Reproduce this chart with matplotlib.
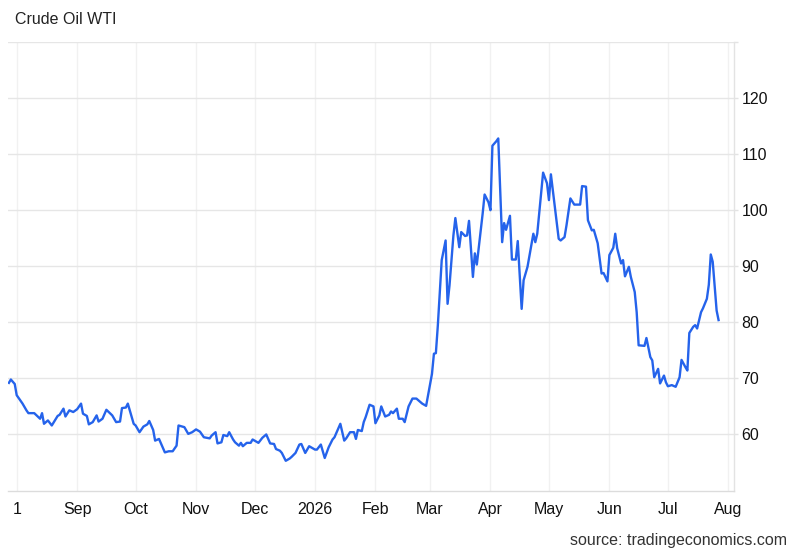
import matplotlib
matplotlib.use("Agg")
import matplotlib.pyplot as plt
import pandas as pd

# ---- data ----
dates = [
    "2025-07-28", "2025-07-29", "2025-07-31", "2025-08-01", "2025-08-04", "2025-08-06", "2025-08-07",
    "2025-08-10", "2025-08-13", "2025-08-14", "2025-08-15", "2025-08-17", "2025-08-19", "2025-08-22",
    "2025-08-23", "2025-08-25", "2025-08-26", "2025-08-28", "2025-08-30", "2025-09-01",
    "2025-09-03", "2025-09-04", "2025-09-06", "2025-09-07", "2025-09-09", "2025-09-11", "2025-09-12",
    "2025-09-14", "2025-09-16", "2025-09-19", "2025-09-21", "2025-09-23", "2025-09-24", "2025-09-26",
    "2025-09-27", "2025-09-29", "2025-09-30", "2025-10-01",
    "2025-10-03", "2025-10-05", "2025-10-07", "2025-10-08", "2025-10-10", "2025-10-11", "2025-10-13",
    "2025-10-14", "2025-10-16", "2025-10-18", "2025-10-20", "2025-10-22", "2025-10-23", "2025-10-26",
    "2025-10-28", "2025-10-30",
    "2025-11-01", "2025-11-03", "2025-11-05", "2025-11-08", "2025-11-09", "2025-11-11", "2025-11-12",
    "2025-11-14", "2025-11-15", "2025-11-17", "2025-11-18", "2025-11-20", "2025-11-21", "2025-11-23",
    "2025-11-24", "2025-11-25", "2025-11-27", "2025-11-29", "2025-11-30",
    "2025-12-03", "2025-12-05", "2025-12-07", "2025-12-09", "2025-12-11", "2025-12-12", "2025-12-14",
    "2025-12-15", "2025-12-17", "2025-12-19", "2025-12-20", "2025-12-22", "2025-12-24", "2025-12-25",
    "2025-12-27", "2025-12-29", "2025-12-30",
    "2026-01-01", "2026-01-02", "2026-01-04", "2026-01-06", "2026-01-08", "2026-01-10", "2026-01-11",
    "2026-01-14", "2026-01-16", "2026-01-17", "2026-01-19", "2026-01-21", "2026-01-22", "2026-01-23",
    "2026-01-25", "2026-01-26", "2026-01-27", "2026-01-29", "2026-01-31",
    "2026-02-01", "2026-02-03", "2026-02-04", "2026-02-06", "2026-02-08", "2026-02-09", "2026-02-10",
    "2026-02-12", "2026-02-13", "2026-02-15", "2026-02-16", "2026-02-18", "2026-02-20", "2026-02-22",
    "2026-02-23", "2026-02-25", "2026-02-27", "2026-02-28",
    "2026-03-02", "2026-03-03", "2026-03-04", "2026-03-05", "2026-03-07", "2026-03-09", "2026-03-10",
    "2026-03-11", "2026-03-13", "2026-03-14", "2026-03-16", "2026-03-17", "2026-03-19", "2026-03-20",
    "2026-03-21", "2026-03-23", "2026-03-24", "2026-03-25", "2026-03-28", "2026-03-29", "2026-03-31",
    "2026-04-01", "2026-04-02", "2026-04-04", "2026-04-05", "2026-04-07", "2026-04-08", "2026-04-09",
    "2026-04-11", "2026-04-12", "2026-04-14", "2026-04-15", "2026-04-17", "2026-04-18", "2026-04-20",
    "2026-04-23", "2026-04-24", "2026-04-25", "2026-04-26", "2026-04-28", "2026-04-30",
    "2026-05-01", "2026-05-02", "2026-05-06", "2026-05-07", "2026-05-09", "2026-05-10", "2026-05-12",
    "2026-05-14", "2026-05-17", "2026-05-18", "2026-05-20", "2026-05-21", "2026-05-23", "2026-05-24",
    "2026-05-26", "2026-05-28", "2026-05-29", "2026-05-31",
    "2026-06-01", "2026-06-03", "2026-06-04", "2026-06-05", "2026-06-07", "2026-06-08", "2026-06-09",
    "2026-06-11", "2026-06-12", "2026-06-14", "2026-06-15", "2026-06-16", "2026-06-19", "2026-06-20",
    "2026-06-22", "2026-06-23", "2026-06-24", "2026-06-26", "2026-06-27", "2026-06-29", "2026-06-30",
    "2026-07-01", "2026-07-03", "2026-07-05", "2026-07-07", "2026-07-08", "2026-07-10", "2026-07-11",
    "2026-07-12", "2026-07-14", "2026-07-15", "2026-07-16", "2026-07-18", "2026-07-19", "2026-07-21",
    "2026-07-22", "2026-07-23", "2026-07-24", "2026-07-26", "2026-07-27",
]
values = [
    69.2, 69.8, 69.0, 67.0, 65.5, 64.3, 63.8,
    63.8, 62.8, 63.8, 61.9, 62.5, 61.6, 63.3,
    63.5, 64.6, 63.2, 64.3, 64.0, 64.5,
    65.5, 63.7, 63.3, 61.8, 62.2, 63.4, 62.3,
    62.8, 64.4, 63.4, 62.2, 62.3, 64.7, 64.8,
    65.5, 63.1, 61.9, 61.6,
    60.4, 61.4, 61.8, 62.4, 60.8, 58.9, 59.2,
    58.4, 56.8, 57.0, 57.0, 58.0, 61.6, 61.3,
    60.1, 60.4,
    60.9, 60.5, 59.5, 59.3, 59.8, 60.4, 58.4,
    58.6, 59.9, 59.7, 60.4, 59.1, 58.6, 58.0,
    58.5, 57.9, 58.5, 58.5, 59.1,
    58.5, 59.4, 60.0, 58.4, 58.3, 57.4, 57.1,
    56.7, 55.3, 55.7, 56.0, 56.7, 58.2, 58.3,
    56.7, 57.9, 57.7,
    57.3, 57.3, 58.2, 55.8, 57.7, 59.1, 59.5,
    61.9, 58.9, 59.3, 60.4, 60.4, 59.2, 60.8,
    60.6, 62.2, 63.1, 65.3, 65.0,
    62.0, 63.4, 65.0, 63.2, 63.5, 64.1, 63.8,
    64.6, 62.8, 62.8, 62.2, 65.0, 66.4, 66.4,
    66.1, 65.5, 65.1, 67.0,
    70.8, 74.4, 74.5, 79.4, 91.1, 94.6, 83.3,
    86.6, 95.5, 98.6, 93.4, 96.1, 95.4, 95.5,
    98.1, 88.1, 92.3, 90.3, 99.4, 102.8, 101.4,
    100.0, 111.5, 112.3, 112.8, 94.3, 97.7, 96.5,
    99.0, 91.2, 91.2, 94.5, 82.4, 87.5, 89.9,
    95.8, 94.3, 95.8, 99.4, 106.7, 104.8,
    101.8, 106.4, 94.9, 94.6, 95.2, 97.3, 102.1,
    101.0, 101.0, 104.3, 104.2, 98.2, 96.4, 96.5,
    94.1, 88.7, 88.8, 87.3,
    92.0, 93.3, 95.8, 93.2, 90.5, 91.1, 88.2,
    89.9, 88.1, 85.4, 81.8, 75.9, 75.8, 77.2,
    73.8, 73.2, 70.2, 71.7, 69.1, 70.5, 69.3,
    68.6, 68.8, 68.5, 70.2, 73.3, 72.0, 71.4,
    78.1, 79.2, 79.5, 78.9, 81.8, 82.5, 84.2,
    86.7, 92.1, 90.8, 82.1, 80.4,
]
tick_dates = ["2025-08-01", "2025-09-01", "2025-10-01", "2025-11-01", "2025-12-01", "2026-01-01",
              "2026-02-01", "2026-03-01", "2026-04-01", "2026-05-01", "2026-06-01", "2026-07-01",
              "2026-08-01"]
tick_labels = ["1", "Sep", "Oct", "Nov", "Dec", "2026", "Feb", "Mar", "Apr", "May", "Jun", "Jul", "Aug"]
y_ticks = [60, 70, 80, 90, 100, 110, 120, 130]
y_labels = ["60", "70", "80", "90", "100", "110", "120", ""]

title = "Crude Oil WTI"
source = "source: tradingeconomics.com"

# ---- drawing ----
plt.rcParams['font.family'] = ['Liberation Sans', 'DejaVu Sans']

fig = plt.figure(figsize=(8, 5.55), dpi=100)
ax = fig.add_axes([0.01, 0.1162, 0.9079, 0.8081])

x = pd.to_datetime(dates)
ax.plot(x, values, color='#2563eb', lw=1.7, solid_joinstyle='round', zorder=3)

ax.set_ylim(50, 130)
ax.set_xlim(pd.Timestamp("2025-08-01") - pd.Timedelta(days=4.46),
            pd.Timestamp("2026-08-01") + pd.Timedelta(days=3.08))

ax.yaxis.tick_right()
ax.set_yticks(y_ticks)
ax.set_yticklabels(y_labels)
ax.set_xticks(pd.to_datetime(tick_dates))
ax.set_xticklabels(tick_labels)

ax.tick_params(axis='y', which='major', length=3, width=1, color='#e3e3e3',
               pad=2, labelsize=11.5, labelcolor='#111111')
ax.tick_params(axis='x', which='major', length=0, pad=8, labelsize=11.5, labelcolor='#111111')

ax.grid(axis='y', color='#e6e6e6', lw=1.0, zorder=0)
ax.grid(axis='x', color='#f1f1f1', lw=1.0, zorder=0)

for s in ['left', 'top']:
    ax.spines[s].set_visible(False)
ax.spines['right'].set_color('#e3e3e3')
ax.spines['right'].set_linewidth(1.0)
ax.spines['bottom'].set_color('#dcdcdc')
ax.spines['bottom'].set_linewidth(1.0)

fig.text(15 / 800, 1 - 20 / 555, title, fontsize=11.5, color='#222222', va='center', ha='left')
fig.text(787 / 800, 1 - 541 / 555, source, fontsize=11.5, color='#333333', va='center', ha='right')

fig.savefig("out.png", dpi=100)
